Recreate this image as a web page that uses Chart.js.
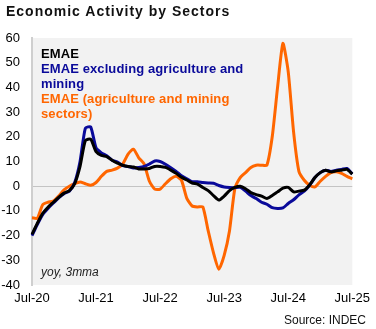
<!DOCTYPE html>
<html>
<head>
<meta charset="utf-8">
<script src="https://cdn.jsdelivr.net/npm/chart.js@4.4.1/dist/chart.umd.min.js"></script>
<style>
  html, body { margin: 0; padding: 0; background: #fff; }
  #wrap { position: relative; width: 376px; height: 329px; font-family: "Liberation Sans", Arial, sans-serif; }
  #chart { position: absolute; left: 0; top: 0; }
  .txt { position: absolute; white-space: nowrap; }
  #title { left: 6px; top: 3px; font-size: 14px; font-weight: bold; letter-spacing: 1px; color: #111; }
  #legend { left: 41px; top: 46px; font-size: 13px; font-weight: bold; line-height: 15px; letter-spacing: 0.1px; }
  #note { left: 41px; top: 265px; font-size: 12px; font-style: italic; color: #222; }
  #source { left: 284px; top: 313px; font-size: 12px; color: #111; }
</style>
</head>
<body>
<div id="wrap">
  <canvas id="chart" width="376" height="329"></canvas>
  <div id="title" class="txt">Economic Activity by Sectors</div>
  <div id="legend" class="txt">
    <div style="color:#000">EMAE</div>
    <div style="color:#0a0a9a">EMAE excluding agriculture and<br>mining</div>
    <div style="color:#ff6600">EMAE (agriculture and mining<br>sectors)</div>
  </div>
  <div id="note" class="txt">yoy, 3mma</div>
  <div id="source" class="txt">Source: INDEC</div>
</div>
<script>
// months Jul-20 .. Jul-25
const monthNames = ['Jan', 'Feb', 'Mar', 'Apr', 'May', 'Jun', 'Jul', 'Aug', 'Sep', 'Oct', 'Nov', 'Dec'];
const months = [];
for (let i = 0; i <= 60; i++) {
    const m = (6 + i) % 12;
    const y = 20 + Math.floor((6 + i) / 12);
    months.push(monthNames[m] + '-' + y);
}

const emae = [
    -19.5, -15, -11, -8.5, -6.5, -4.5, -2.8, -1.8, 1.0, 8, 18.5, 19,
    14, 12.5, 12, 10.5, 9.3, 8.5, 8, 7.8, 7, 7, 7.2, 8,
    8, 7.6, 6.5, 5.2, 3.6, 2.5, 1.3, 0.8, -0.5, -1.8, -3.8, -5.6,
    -4, -1.8, -0.5, 0, -1, -2.6, -3.4, -4, -5, -3.8, -2.3, -0.8,
    -0.5, -2.3, -2, -1.6, 0.5, 3.5, 5.5, 6.5, 5.8, 6.2, 6.5, 6.8,
    4.9
];

const emaeExAgri = [
    -20, -15.5, -11.5, -9, -6.8, -4.7, -3, -2, 1.5, 10, 23.5, 24,
    15.5, 13.5, 12.3, 10.5, 9.8, 8.3, 8, 7.4, 7.6, 8, 9, 10.2,
    10, 8.9, 7.5, 6, 4.2, 3, 1.8, 1.8, 1.5, 1.3, 1.2, 0.3,
    -0.3, -0.5, -0.6, -0.5, -2, -3.8, -5, -6.5, -7.3, -8.7, -9, -8.8,
    -7, -5.5, -3.5, -2, 0.4, 3.5, 5.5, 6.5, 6, 6.5, 6.8, 7.2,
    5
];

const emaeAgri = [
    -12.8, -13, -7.5, -6.5, -6, -4, -1.5, 0, 1, 1.7, 1, 0.4,
    1.5, 4, 6, 6.5, 7.3, 9, 13, 15, 11.5, 9, 2, -1.2,
    -1.2, 1, 3, 4, 2.4, -4.9, -8, -8.4, -8.4, -18, -27, -33.6,
    -28, -18, -1, 3.5, 5.5, 7.6, 8.5, 8.5, 8.5, 20, 40, 57.8,
    46.3, 22, 6, 2.4, 0.4, -0.3, 2, 4, 5.5, 5.8, 5.2, 4,
    3
];

const plotBackground = {
    id: 'plotBackground',
    beforeDraw(chart) {
        const { ctx, chartArea } = chart;
        ctx.save();
        ctx.fillStyle = '#f2f2f2';
        ctx.fillRect(chartArea.left, chartArea.top, chartArea.right - chartArea.left, chartArea.bottom - chartArea.top);
        ctx.restore();
    }
};

const lineStyle = { borderWidth: 3, pointRadius: 0, tension: 0.2, fill: false };

new Chart(document.getElementById('chart'), {
    type: 'line',
    data: {
        labels: months,
        datasets: [
            Object.assign({ label: 'EMAE', data: emae, borderColor: '#000000' }, lineStyle),
            Object.assign({ label: 'EMAE excluding agriculture and mining', data: emaeExAgri, borderColor: '#0a0a9a' }, lineStyle),
            Object.assign({ label: 'EMAE (agriculture and mining sectors)', data: emaeAgri, borderColor: '#ff6600' }, lineStyle)
        ]
    },
    options: {
        responsive: false,
        animation: false,
        layout: { padding: { top: 38, right: 21, bottom: 0, left: 0 } },
        plugins: { legend: { display: false }, tooltip: { enabled: false } },
        scales: {
            x: {
                offset: false,
                afterFit: scale => { scale.height = 44; },
                grid: { display: false, drawTicks: false },
                border: { display: false },
                ticks: {
                    autoSkip: false,
                    maxRotation: 0,
                    padding: 6,
                    color: '#000',
                    font: { family: 'Liberation Sans', size: 13 },
                    callback: function (value, index) {
                        return index % 12 === 0 ? months[index] : null;
                    }
                }
            },
            y: {
                min: -40,
                max: 60,
                afterFit: scale => { scale.width = 32; },
                grid: {
                    drawTicks: false,
                    color: ctx => (ctx.tick && ctx.tick.value === 0 ? '#c4c4c4' : 'rgba(0,0,0,0)'),
                    lineWidth: 1
                },
                border: { display: true, color: '#cfcfcf', width: 2 },
                ticks: {
                    stepSize: 10,
                    padding: 12,
                    color: '#000',
                    font: { family: 'Liberation Sans', size: 13 }
                }
            }
        }
    },
    plugins: [plotBackground]
});
</script>
</body>
</html>
